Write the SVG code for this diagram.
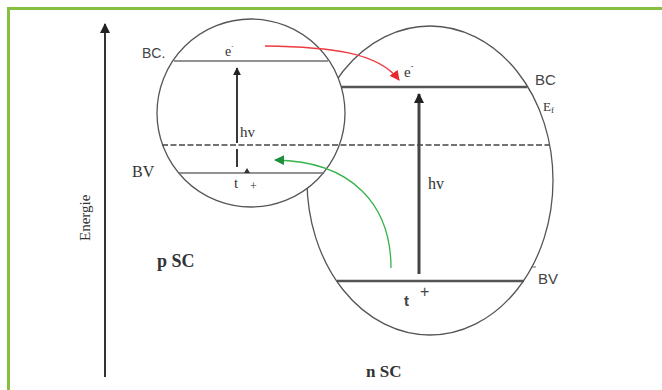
<svg xmlns="http://www.w3.org/2000/svg" width="662" height="390" viewBox="0 0 662 390">
<style>
.band{stroke:#6e6e6e;stroke-width:1.6;fill:none}
.bandn{stroke:#555;stroke-width:2.4;fill:none}
.edge{stroke:#555;stroke-width:1.3;fill:#fff}
.serif{font-family:"Liberation Serif","DejaVu Serif",serif;fill:#333}
.sans{font-family:"Liberation Sans","DejaVu Sans",sans-serif;fill:#444}
</style>
<defs>
<marker id="ahBlack" viewBox="0 0 10 10" refX="9" refY="5" markerWidth="8" markerHeight="8" markerUnits="userSpaceOnUse" orient="auto"><path d="M0,0 L10,5 L0,10 z" fill="#222"/></marker>
<marker id="ahBig" viewBox="0 0 10 10" refX="9" refY="5" markerWidth="10" markerHeight="10" markerUnits="userSpaceOnUse" orient="auto"><path d="M0,0 L10,5 L0,10 z" fill="#222"/></marker>
<marker id="ahRed" viewBox="0 0 10 10" refX="9" refY="5" markerWidth="10" markerHeight="10" markerUnits="userSpaceOnUse" orient="auto"><path d="M0,0 L10,5 L0,10 z" fill="#e8262d"/></marker>
<marker id="ahGreen" viewBox="0 0 10 10" refX="9" refY="5" markerWidth="10" markerHeight="10" markerUnits="userSpaceOnUse" orient="auto"><path d="M0,0 L10,5 L0,10 z" fill="#1e8f3a"/></marker>
</defs>
<rect width="662" height="390" fill="#fff"/>
<g id="frame"><path d="M8.5,390 V8.5 H662" fill="none" stroke="#86c043" stroke-width="3"/></g>

<g id="energy-axis">
<line x1="105" y1="377" x2="105" y2="24" stroke="#333" stroke-width="2" marker-end="url(#ahBig)"/>
<text class="serif" transform="translate(90,241) rotate(-90)" font-size="15">Energie</text>
</g>

<g id="nSC">
<ellipse class="edge" cx="430" cy="180.5" rx="123" ry="154.5"/>
<line class="bandn" x1="341" y1="87" x2="527" y2="87"/>
<line class="bandn" x1="337" y1="281" x2="524" y2="281"/>
<text class="sans" x="535" y="85" font-size="15">BC</text>
<text class="serif" x="543" y="111" font-size="13" fill="#222">E<tspan font-size="9" dy="2">f</tspan></text>
<line x1="532" y1="267" x2="536" y2="267" stroke="#666" stroke-width="1"/>
<text class="sans" x="538" y="284" font-size="15">BV</text>
<text class="serif" x="404" y="77" font-size="15" fill="#222">e<tspan font-size="8" dy="-8">-</tspan></text>
<text class="sans" x="404" y="306" font-size="15" font-weight="bold" fill="#222">t</text>
<text class="sans" x="420" y="297" font-size="16" fill="#222">+</text>
<text class="serif" x="366" y="377" font-size="17" font-weight="bold" fill="#222">n SC</text>
</g>

<g id="pSC">
<circle class="edge" cx="251" cy="113" r="94"/>
<line class="band" x1="174" y1="61" x2="328" y2="61"/>
<line class="band" x1="179" y1="173" x2="324" y2="173"/>
<text class="sans" x="142" y="58" font-size="14">BC.</text>
<text class="serif" x="132" y="177" font-size="16">BV</text>
<text class="serif" x="225" y="56" font-size="14">e<tspan font-size="7" dy="-8">-</tspan></text>
<path d="M244,173 L247,168 L250,173 z" fill="#333"/>
<text class="serif" x="234" y="188" font-size="15">t</text>
<text class="serif" x="250" y="190" font-size="12">+</text>
<text class="serif" x="157" y="267" font-size="18" font-weight="bold" fill="#222">p  SC</text>
</g>

<g id="fermi"><line x1="162" y1="145" x2="549" y2="145" stroke="#444" stroke-width="1.3" stroke-dasharray="6,2.5"/></g>

<g id="connectors">
<line x1="237" y1="143" x2="237" y2="68" stroke="#222" stroke-width="1.8" marker-end="url(#ahBlack)"/>
<line x1="237" y1="149" x2="237" y2="167" stroke="#222" stroke-width="1.8"/>
<text class="serif" x="240" y="137" font-size="15">hv</text>
<line x1="419" y1="274" x2="419" y2="94" stroke="#444" stroke-width="3" marker-end="url(#ahBig)"/>
<text class="serif" x="428" y="189" font-size="16">hv</text>
<path d="M265,46 C330,47 378,52 399,80" fill="none" stroke="#ee3b41" stroke-width="1.5" marker-end="url(#ahRed)"/>
<path d="M391,268 C391,205 352,161 275,160" fill="none" stroke="#38b24a" stroke-width="1.3" marker-end="url(#ahGreen)"/>
</g>
</svg>
